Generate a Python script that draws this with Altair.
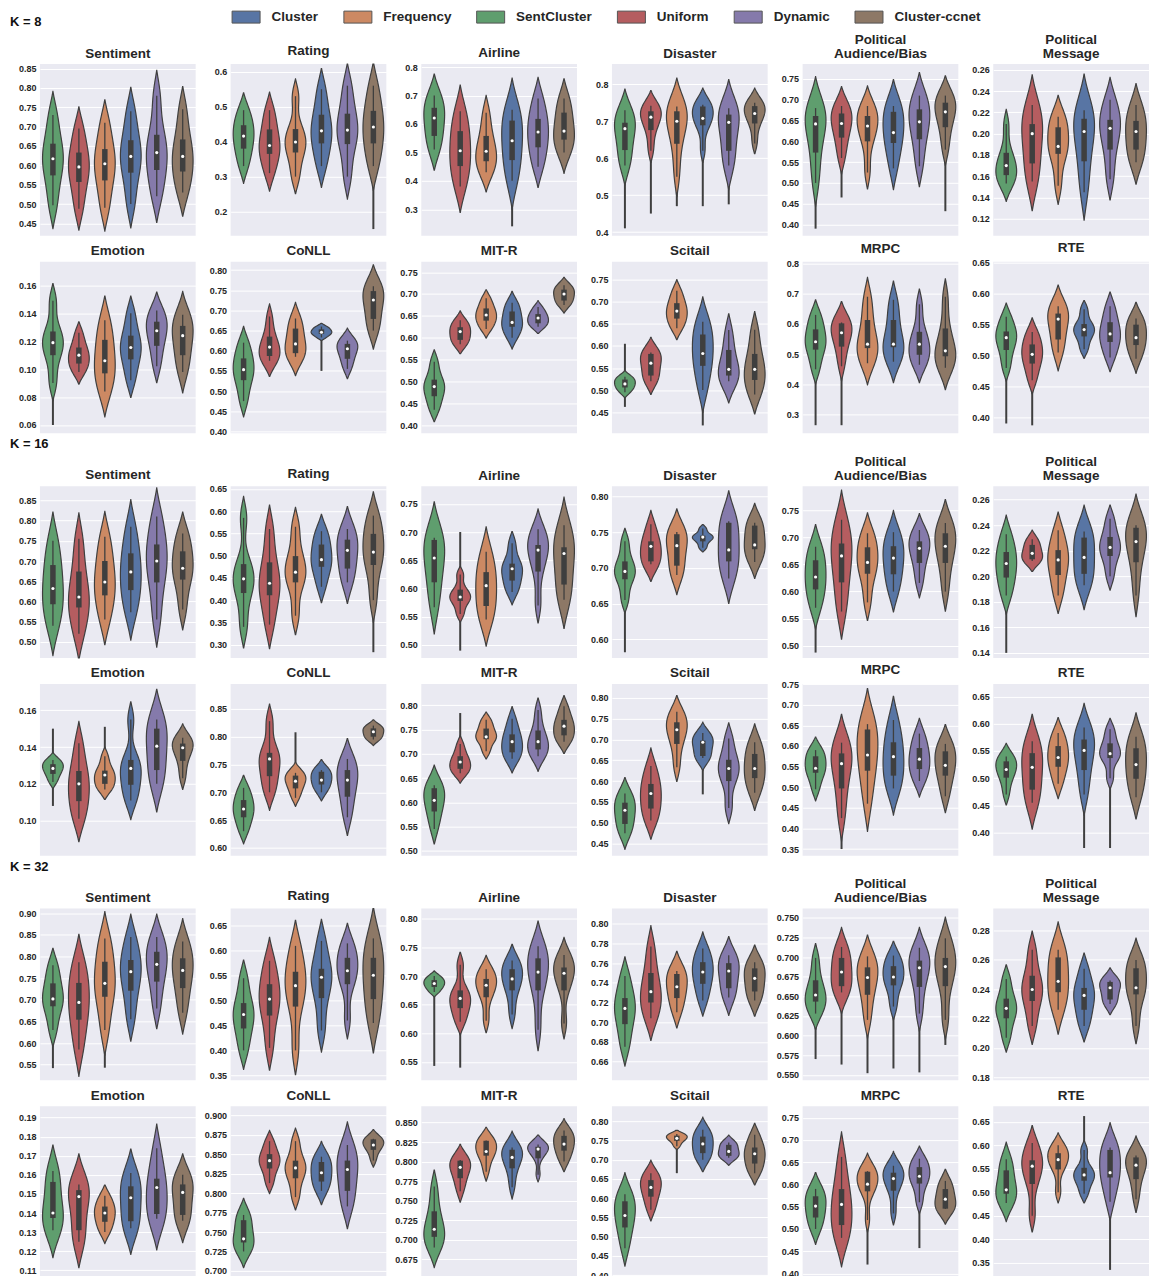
import math
import altair as alt
import pandas as pd

FONT = "Liberation Sans"
EDGE = "#3f3f3f"
TEXT = "#262626"

# x order of violins inside every panel
METHODS = ["SentCluster", "Uniform", "Frequency", "Cluster", "Dynamic", "Cluster-ccnet"]
# legend order and colours
LEGEND_ORDER = ["Cluster", "Frequency", "SentCluster", "Uniform", "Dynamic", "Cluster-ccnet"]
COLORS = ["#5875a4", "#cc8963", "#5f9e6e", "#b55d60", "#857aab", "#8d7866"]

DATASETS = ["Sentiment", "Rating", "Airline", "Disaster", "Political Audience/Bias", "Political Message",
            "Emotion", "CoNLL", "MIT-R", "Scitail", "MRPC", "RTE"]
TITLES = ["Sentiment", "Rating", "Airline", "Disaster", ["Political", "Audience/Bias"], ["Political", "Message"],
          "Emotion", "CoNLL", "MIT-R", "Scitail", "MRPC", "RTE"]
K_VALUES = [8, 16, 32]
K_LABELS = ["K = 8", "K = 16", "K = 32"]

# per violin: [lower whisker, q1, median, q3, upper whisker]  (order = METHODS)
K8_SENTIMENT = [[0.497, 0.574, 0.617, 0.656, 0.730], [0.488, 0.557, 0.596, 0.633, 0.695],
                [0.490, 0.561, 0.604, 0.642, 0.710], [0.500, 0.581, 0.623, 0.665, 0.740],
                [0.520, 0.588, 0.633, 0.679, 0.780], [0.530, 0.584, 0.623, 0.667, 0.745]]
K8_RATING = [[0.330, 0.380, 0.416, 0.447, 0.490], [0.310, 0.365, 0.389, 0.435, 0.490],
             [0.300, 0.369, 0.399, 0.436, 0.530], [0.330, 0.395, 0.431, 0.477, 0.550],
             [0.300, 0.393, 0.433, 0.480, 0.560], [0.330, 0.395, 0.442, 0.488, 0.560]]
K8_AIRLINE = [[0.510, 0.558, 0.621, 0.657, 0.700], [0.380, 0.452, 0.506, 0.575, 0.645],
              [0.430, 0.469, 0.504, 0.558, 0.640], [0.400, 0.473, 0.541, 0.612, 0.650],
              [0.450, 0.518, 0.572, 0.618, 0.690], [0.500, 0.545, 0.575, 0.640, 0.690]]
K8_DISASTER = [[0.580, 0.622, 0.680, 0.696, 0.730], [0.620, 0.676, 0.711, 0.727, 0.742],
               [0.550, 0.639, 0.700, 0.727, 0.740], [0.620, 0.689, 0.708, 0.740, 0.745],
               [0.580, 0.620, 0.697, 0.718, 0.735], [0.640, 0.694, 0.721, 0.741, 0.750]]
K8_POLAB = [[0.500, 0.573, 0.642, 0.661, 0.680], [0.560, 0.609, 0.643, 0.667, 0.685],
            [0.525, 0.600, 0.637, 0.661, 0.685], [0.535, 0.596, 0.621, 0.671, 0.685],
            [0.540, 0.605, 0.647, 0.677, 0.710], [0.580, 0.634, 0.671, 0.693, 0.710]]
K8_POLMSG = [[0.153, 0.161, 0.170, 0.182, 0.209], [0.155, 0.172, 0.200, 0.209, 0.227],
             [0.151, 0.181, 0.188, 0.206, 0.216], [0.145, 0.174, 0.202, 0.214, 0.222],
             [0.157, 0.185, 0.205, 0.213, 0.232], [0.173, 0.185, 0.202, 0.212, 0.227]]
K8_EMOTION = [[0.090, 0.110, 0.119, 0.127, 0.149], [0.098, 0.104, 0.110, 0.1155, 0.126],
              [0.084, 0.097, 0.106, 0.121, 0.135], [0.092, 0.107, 0.1155, 0.124, 0.140],
              [0.102, 0.1167, 0.1275, 0.134, 0.142], [0.098, 0.110, 0.124, 0.131, 0.139]]
K8_CONLL = [[0.475, 0.527, 0.553, 0.581, 0.620], [0.575, 0.587, 0.609, 0.635, 0.685],
            [0.585, 0.594, 0.617, 0.655, 0.680], [0.633, 0.642, 0.646, 0.653, 0.660],
            [0.555, 0.580, 0.605, 0.617, 0.625], [0.650, 0.679, 0.726, 0.748, 0.760]]
K8_MITR = [[0.435, 0.466, 0.488, 0.504, 0.545], [0.585, 0.595, 0.614, 0.624, 0.640],
           [0.620, 0.639, 0.652, 0.667, 0.690], [0.600, 0.625, 0.635, 0.660, 0.680],
           [0.625, 0.633, 0.645, 0.654, 0.670], [0.675, 0.685, 0.700, 0.710, 0.720]]
K8_SCITAIL = [[0.495, 0.506, 0.514, 0.524, 0.530], [0.520, 0.533, 0.561, 0.582, 0.585],
              [0.640, 0.662, 0.679, 0.697, 0.725], [0.500, 0.555, 0.583, 0.626, 0.655],
              [0.520, 0.533, 0.547, 0.591, 0.636], [0.490, 0.523, 0.547, 0.582, 0.637]]
K8_MRPC = [[0.450, 0.515, 0.541, 0.582, 0.630], [0.460, 0.525, 0.571, 0.602, 0.605],
           [0.470, 0.520, 0.533, 0.613, 0.690], [0.475, 0.523, 0.533, 0.613, 0.680],
           [0.465, 0.498, 0.533, 0.574, 0.665], [0.455, 0.493, 0.511, 0.585, 0.690]]
K8_RTE = [[0.480, 0.509, 0.529, 0.539, 0.563], [0.460, 0.487, 0.502, 0.518, 0.538],
          [0.505, 0.526, 0.559, 0.568, 0.580], [0.510, 0.531, 0.542, 0.551, 0.575],
          [0.497, 0.522, 0.535, 0.554, 0.580], [0.495, 0.517, 0.529, 0.550, 0.560]]

K16_SENTIMENT = [[0.540, 0.593, 0.632, 0.690, 0.750], [0.520, 0.585, 0.611, 0.674, 0.755],
                 [0.555, 0.615, 0.648, 0.700, 0.760], [0.573, 0.628, 0.673, 0.719, 0.785],
                 [0.555, 0.647, 0.700, 0.741, 0.810], [0.580, 0.654, 0.682, 0.724, 0.768]]
K16_RATING = [[0.340, 0.416, 0.448, 0.481, 0.585], [0.345, 0.411, 0.438, 0.485, 0.560],
              [0.365, 0.440, 0.463, 0.499, 0.565], [0.430, 0.475, 0.491, 0.525, 0.555],
              [0.440, 0.471, 0.512, 0.536, 0.560], [0.400, 0.479, 0.508, 0.549, 0.590]]
K16_AIRLINE = [[0.567, 0.611, 0.654, 0.686, 0.690], [0.555, 0.578, 0.585, 0.598, 0.625],
               [0.545, 0.569, 0.605, 0.629, 0.665], [0.594, 0.614, 0.635, 0.644, 0.680],
               [0.570, 0.630, 0.668, 0.677, 0.705], [0.580, 0.607, 0.662, 0.673, 0.712]]
K16_DISASTER = [[0.655, 0.684, 0.695, 0.709, 0.737], [0.705, 0.709, 0.730, 0.737, 0.761],
                [0.690, 0.703, 0.731, 0.747, 0.750], [0.728, 0.737, 0.743, 0.745, 0.755],
                [0.685, 0.709, 0.725, 0.763, 0.765], [0.708, 0.726, 0.732, 0.759, 0.763]]
K16_POLAB = [[0.570, 0.604, 0.627, 0.658, 0.683], [0.563, 0.617, 0.666, 0.689, 0.733],
             [0.580, 0.633, 0.654, 0.682, 0.708], [0.600, 0.632, 0.662, 0.684, 0.710],
             [0.616, 0.653, 0.680, 0.693, 0.714], [0.600, 0.653, 0.684, 0.708, 0.727]]
K16_POLMSG = [[0.185, 0.199, 0.210, 0.219, 0.233], [0.212, 0.2133, 0.218, 0.2246, 0.229],
              [0.185, 0.201, 0.2128, 0.2205, 0.236], [0.193, 0.2019, 0.2148, 0.2303, 0.235],
              [0.200, 0.2159, 0.2226, 0.2308, 0.245], [0.185, 0.211, 0.2272, 0.238, 0.240]]
K16_EMOTION = [[0.121, 0.1254, 0.1284, 0.1307, 0.133], [0.101, 0.1106, 0.120, 0.127, 0.142],
               [0.117, 0.120, 0.1248, 0.1272, 0.135], [0.111, 0.1195, 0.1284, 0.133, 0.155],
               [0.120, 0.1275, 0.1405, 0.150, 0.155], [0.123, 0.1325, 0.1396, 0.1419, 0.145]]
K16_CONLL = [[0.630, 0.655, 0.670, 0.686, 0.708], [0.700, 0.729, 0.760, 0.771, 0.828],
             [0.690, 0.707, 0.720, 0.730, 0.735], [0.700, 0.714, 0.722, 0.737, 0.740],
             [0.655, 0.692, 0.722, 0.740, 0.760], [0.795, 0.800, 0.809, 0.815, 0.820]]
K16_MITR = [[0.545, 0.581, 0.604, 0.629, 0.635], [0.660, 0.669, 0.683, 0.695, 0.720],
            [0.705, 0.730, 0.735, 0.752, 0.770], [0.690, 0.703, 0.725, 0.740, 0.772],
            [0.695, 0.709, 0.725, 0.748, 0.790], [0.725, 0.738, 0.757, 0.770, 0.798]]
K16_SCITAIL = [[0.475, 0.497, 0.530, 0.548, 0.570], [0.505, 0.534, 0.570, 0.593, 0.636],
               [0.633, 0.689, 0.723, 0.741, 0.766], [0.655, 0.660, 0.693, 0.697, 0.715],
               [0.535, 0.600, 0.630, 0.651, 0.702], [0.572, 0.607, 0.630, 0.665, 0.693]]
K16_MRPC = [[0.495, 0.535, 0.546, 0.575, 0.590], [0.425, 0.497, 0.557, 0.582, 0.608],
            [0.460, 0.540, 0.578, 0.640, 0.653], [0.497, 0.528, 0.574, 0.609, 0.663],
            [0.515, 0.544, 0.568, 0.595, 0.630], [0.478, 0.528, 0.553, 0.587, 0.605]]
K16_RTE = [[0.470, 0.501, 0.516, 0.531, 0.540], [0.455, 0.479, 0.520, 0.546, 0.568],
           [0.490, 0.521, 0.538, 0.559, 0.583], [0.470, 0.515, 0.551, 0.571, 0.593],
           [0.500, 0.537, 0.545, 0.564, 0.590], [0.465, 0.499, 0.525, 0.555, 0.576]]

K32_SENTIMENT = [[0.630, 0.685, 0.702, 0.738, 0.780], [0.585, 0.654, 0.694, 0.739, 0.787],
                 [0.630, 0.707, 0.738, 0.788, 0.842], [0.655, 0.721, 0.765, 0.792, 0.845],
                 [0.680, 0.742, 0.782, 0.811, 0.845], [0.670, 0.727, 0.768, 0.796, 0.835]]
K32_RATING = [[0.400, 0.444, 0.472, 0.495, 0.545], [0.405, 0.470, 0.503, 0.533, 0.580],
              [0.400, 0.488, 0.530, 0.558, 0.610], [0.440, 0.505, 0.547, 0.564, 0.620],
              [0.460, 0.533, 0.560, 0.586, 0.615], [0.455, 0.503, 0.551, 0.586, 0.625]]
K32_AIRLINE = [[0.672, 0.681, 0.687, 0.693, 0.700], [0.620, 0.644, 0.661, 0.675, 0.720],
               [0.622, 0.663, 0.684, 0.695, 0.712], [0.633, 0.675, 0.695, 0.712, 0.727],
               [0.606, 0.675, 0.707, 0.731, 0.752], [0.617, 0.675, 0.705, 0.715, 0.737]]
K32_DISASTER = [[0.675, 0.698, 0.714, 0.7245, 0.747], [0.704, 0.720, 0.731, 0.750, 0.777],
                [0.710, 0.7245, 0.736, 0.749, 0.752], [0.722, 0.739, 0.751, 0.761, 0.775],
                [0.725, 0.7345, 0.752, 0.760, 0.768], [0.722, 0.7312, 0.7446, 0.7547, 0.761]]
K32_POLAB = [[0.628, 0.6433, 0.6517, 0.6705, 0.699], [0.655, 0.663, 0.681, 0.699, 0.713],
             [0.620, 0.652, 0.674, 0.687, 0.701], [0.637, 0.664, 0.6747, 0.6885, 0.702],
             [0.628, 0.662, 0.6864, 0.6956, 0.712], [0.620, 0.663, 0.688, 0.699, 0.724]]
K32_POLMSG = [[0.207, 0.2202, 0.227, 0.2336, 0.247], [0.215, 0.232, 0.2398, 0.2492, 0.267],
              [0.226, 0.238, 0.2454, 0.2617, 0.267], [0.215, 0.226, 0.2358, 0.2409, 0.254],
              [0.230, 0.233, 0.241, 0.245, 0.246], [0.215, 0.2365, 0.241, 0.2543, 0.260]]
K32_EMOTION = [[0.131, 0.1374, 0.140, 0.1563, 0.162], [0.125, 0.131, 0.1486, 0.152, 0.155],
               [0.130, 0.1354, 0.140, 0.1434, 0.149], [0.132, 0.1357, 0.148, 0.154, 0.161],
               [0.137, 0.1395, 0.1534, 0.158, 0.174], [0.136, 0.139, 0.1508, 0.155, 0.160]]
K32_CONLL = [[0.725, 0.7366, 0.7413, 0.7653, 0.772], [0.813, 0.8318, 0.8419, 0.8503, 0.867],
             [0.795, 0.8192, 0.8326, 0.8419, 0.867], [0.803, 0.815, 0.8263, 0.8402, 0.847],
             [0.783, 0.803, 0.8305, 0.842, 0.862], [0.842, 0.8558, 0.862, 0.8693, 0.870]]
K32_MITR = [[0.690, 0.7036, 0.7133, 0.7363, 0.768], [0.762, 0.7787, 0.7927, 0.8012, 0.802],
            [0.787, 0.8076, 0.813, 0.8267, 0.827], [0.767, 0.7914, 0.8054, 0.8152, 0.818],
            [0.783, 0.8042, 0.816, 0.819, 0.822], [0.800, 0.814, 0.8224, 0.833, 0.840]]
K32_SCITAIL = [[0.470, 0.524, 0.555, 0.592, 0.610], [0.570, 0.604, 0.628, 0.647, 0.665],
               [0.735, 0.749, 0.7556, 0.7625, 0.767], [0.700, 0.717, 0.741, 0.760, 0.778],
               [0.705, 0.710, 0.7215, 0.7386, 0.745], [0.665, 0.690, 0.7155, 0.7317, 0.765]]
K32_MRPC = [[0.500, 0.5257, 0.5515, 0.5735, 0.590], [0.480, 0.5088, 0.5551, 0.5897, 0.662],
            [0.520, 0.5846, 0.6007, 0.6287, 0.630], [0.535, 0.586, 0.6132, 0.6265, 0.642],
            [0.560, 0.602, 0.6184, 0.639, 0.658], [0.545, 0.5456, 0.5669, 0.5897, 0.608]]
K32_RTE = [[0.477, 0.4969, 0.5052, 0.5466, 0.570], [0.450, 0.5176, 0.5555, 0.568, 0.605],
           [0.500, 0.5486, 0.5693, 0.5831, 0.600], [0.497, 0.5245, 0.5369, 0.552, 0.590],
           [0.480, 0.5314, 0.5417, 0.590, 0.595], [0.485, 0.5279, 0.5576, 0.5741, 0.578]]

# thin violin tails reaching beyond the body: (K, dataset, method, tip value)
TAILS = [
    (8, "Rating", "Cluster-ccnet", 0.150), (8, "Airline", "Cluster", 0.240),
    (8, "Disaster", "SentCluster", 0.410), (8, "Disaster", "Uniform", 0.450),
    (8, "Disaster", "Frequency", 0.470), (8, "Disaster", "Cluster", 0.470),
    (8, "Disaster", "Dynamic", 0.475), (8, "Political Audience/Bias", "SentCluster", 0.390),
    (8, "Political Audience/Bias", "Uniform", 0.465), (8, "Political Audience/Bias", "Cluster-ccnet", 0.432),
    (8, "CoNLL", "Cluster", 0.550), (8, "MRPC", "SentCluster", 0.265), (8, "MRPC", "Uniform", 0.265),
    (8, "RTE", "SentCluster", 0.390), (8, "RTE", "Uniform", 0.387), (8, "Emotion", "SentCluster", 0.060),
    (8, "Scitail", "Cluster", 0.420), (8, "Scitail", "SentCluster", 0.462), (8, "Scitail", "SentCluster", 0.605),
    (16, "Rating", "Cluster-ccnet", 0.283), (16, "Disaster", "SentCluster", 0.582),
    (16, "Political Audience/Bias", "SentCluster", 0.487), (16, "Political Message", "SentCluster", 0.140),
    (16, "RTE", "Cluster", 0.372), (16, "RTE", "Dynamic", 0.372), (16, "Emotion", "Frequency", 0.151),
    (16, "Emotion", "SentCluster", 0.108), (16, "Emotion", "SentCluster", 0.150),
    (16, "MIT-R", "Uniform", 0.784), (16, "CoNLL", "Frequency", 0.808), (16, "Scitail", "Cluster", 0.568),
    (16, "MRPC", "Uniform", 0.350), (16, "Airline", "Uniform", 0.490), (16, "Airline", "Uniform", 0.700),
    (32, "Airline", "SentCluster", 0.543), (32, "Airline", "Uniform", 0.540),
    (32, "Scitail", "Frequency", 0.665), (32, "RTE", "Dynamic", 0.335), (32, "RTE", "Cluster", 0.662),
    (32, "Sentiment", "SentCluster", 0.542), (32, "Sentiment", "Uniform", 0.532),
    (32, "Sentiment", "Frequency", 0.543), (32, "MRPC", "Frequency", 0.420), (32, "MRPC", "Dynamic", 0.457),
    (32, "Political Audience/Bias", "SentCluster", 0.570), (32, "Political Audience/Bias", "Uniform", 0.563),
    (32, "Political Audience/Bias", "Frequency", 0.552), (32, "Political Audience/Bias", "Cluster", 0.558),
    (32, "Political Audience/Bias", "Dynamic", 0.553), (32, "Political Audience/Bias", "Cluster-ccnet", 0.588),
]

# y axis ranges and tick steps (order = DATASETS)
K8_YLO = [0.418, 0.131, 0.207, 0.390, 0.373, 0.104, 0.054, 0.395, 0.381, 0.402, 0.238, 0.374]
K8_YHI = [0.862, 0.622, 0.811, 0.855, 0.786, 0.2655, 0.177, 0.821, 0.774, 0.791, 0.806, 0.652]
K8_STEP = [0.05, 0.1, 0.1, 0.1, 0.05, 0.02, 0.02, 0.05, 0.05, 0.05, 0.1, 0.05]
K16_YLO = [0.460, 0.270, 0.477, 0.574, 0.477, 0.136, 0.081, 0.586, 0.490, 0.421, 0.334, 0.358]
K16_YHI = [0.885, 0.656, 0.781, 0.814, 0.795, 0.2705, 0.1743, 0.895, 0.844, 0.833, 0.7505, 0.673]
K16_STEP = [0.05, 0.05, 0.05, 0.05, 0.05, 0.02, 0.02, 0.05, 0.05, 0.05, 0.05, 0.05]
K32_YLO = [0.514, 0.340, 0.518, 0.641, 0.543, 0.178, 0.106, 0.691, 0.651, 0.393, 0.390, 0.318]
K32_YHI = [0.911, 0.685, 0.818, 0.8155, 0.762, 0.295, 0.196, 0.912, 0.871, 0.839, 0.776, 0.683]
K32_STEP = [0.05, 0.05, 0.05, 0.02, 0.025, 0.02, 0.01, 0.025, 0.025, 0.05, 0.05, 0.05]

PANELS = {
    8: [K8_SENTIMENT, K8_RATING, K8_AIRLINE, K8_DISASTER, K8_POLAB, K8_POLMSG,
        K8_EMOTION, K8_CONLL, K8_MITR, K8_SCITAIL, K8_MRPC, K8_RTE],
    16: [K16_SENTIMENT, K16_RATING, K16_AIRLINE, K16_DISASTER, K16_POLAB, K16_POLMSG,
         K16_EMOTION, K16_CONLL, K16_MITR, K16_SCITAIL, K16_MRPC, K16_RTE],
    32: [K32_SENTIMENT, K32_RATING, K32_AIRLINE, K32_DISASTER, K32_POLAB, K32_POLMSG,
         K32_EMOTION, K32_CONLL, K32_MITR, K32_SCITAIL, K32_MRPC, K32_RTE],
}
YRANGES = {8: (K8_YLO, K8_YHI, K8_STEP), 16: (K16_YLO, K16_YHI, K16_STEP), 32: (K32_YLO, K32_YHI, K32_STEP)}

rows = []
for k in K_VALUES:
    for ds, arr in zip(DATASETS, PANELS[k]):
        for pos, (m, vals) in enumerate(zip(METHODS, arr)):
            for v in vals:
                rows.append({"K": k, "ds": ds, "method": m, "pos": pos, "value": v})
samples = pd.DataFrame(rows)

tail_rows = []
for k, ds, m, tip in TAILS:
    mi = METHODS.index(m)
    tail_rows.append({"K": k, "ds": ds, "method": m, "pos": mi, "tip": tip,
                      "anchor": PANELS[k][DATASETS.index(ds)][mi][2]})
tails = pd.DataFrame(tail_rows)

W, H = 156, 172
THR = 0.18

LEGEND = alt.Legend(orient="none", legendX=198.5, legendY=-28, direction="horizontal", title=None,
                    symbolType="M-1.87,-0.8H1.87V0.8H-1.87Z", symbolSize=225, symbolStrokeColor="#555555",
                    symbolStrokeWidth=1, symbolOpacity=1, labelFont=FONT, labelFontSize=13.5,
                    labelFontWeight="bold", labelColor=TEXT, columnPadding=22, labelOffset=17.5)


def panel(k, idx):
    ds = DATASETS[idx]
    lo, hi, step = YRANGES[k][0][idx], YRANGES[k][1][idx], YRANGES[k][2][idx]
    ticks = [round(i * step, 4) for i in range(math.ceil(lo / step - 1e-9), math.floor(hi / step + 1e-9) + 1)]
    dec = 1 if step >= 0.1 else (3 if abs(step - 0.025) < 1e-9 else 2)
    yscale = alt.Scale(domain=[lo, hi], nice=False, zero=False)
    xscale = alt.Scale(domain=[-0.5, 5.5], nice=False, zero=False)
    yaxis = alt.Axis(values=ticks, format=f".{dec}f")
    xenc = alt.X("pos:Q", scale=xscale, axis=None)
    sel = (alt.datum.K == k) & (alt.datum.ds == ds)

    base = alt.Chart(samples).transform_filter(sel)

    tail = alt.Chart(tails).transform_filter(sel).mark_rule(color=EDGE, strokeWidth=2).encode(
        x=xenc, y=alt.Y("tip:Q", scale=yscale, axis=yaxis, title=None), y2="anchor:Q")

    violin = base.transform_density(
        "value", as_=["value", "density"], groupby=["method", "pos"], extent=[lo, hi], steps=220
    ).transform_joinaggregate(
        dmax="max(density)", groupby=["method"]
    ).transform_calculate(
        rel="datum.density / datum.dmax"
    ).transform_filter(
        f"datum.rel > {THR}"
    ).transform_calculate(
        w=f"0.4 * (datum.rel - {THR}) / (1 - {THR})"
    ).transform_calculate(
        xl="datum.pos - datum.w", xr="datum.pos + datum.w"
    ).mark_area(orient="horizontal", stroke=EDGE, strokeWidth=1.2, opacity=1).encode(
        y=alt.Y("value:Q", scale=yscale, axis=yaxis, title=None),
        x=alt.X("xl:Q", scale=xscale, axis=None),
        x2="xr:Q",
        color=alt.Color("method:N", scale=alt.Scale(domain=LEGEND_ORDER, range=COLORS), legend=LEGEND),
    )

    stats = base.transform_aggregate(
        wlo="min(value)", q1="q1(value)", med="median(value)", q3="q3(value)", whi="max(value)",
        groupby=["method", "pos"],
    )
    whisk = stats.mark_rule(color=EDGE, strokeWidth=1.3).encode(
        x=xenc, y=alt.Y("wlo:Q", scale=yscale, axis=yaxis, title=None), y2="whi:Q")
    box = stats.mark_rule(color=EDGE, strokeWidth=5.5).encode(
        x=xenc, y=alt.Y("q1:Q", scale=yscale, axis=yaxis, title=None), y2="q3:Q")
    med = stats.mark_point(filled=True, color="white", size=10, opacity=1).encode(
        x=xenc, y=alt.Y("med:Q", scale=yscale, axis=yaxis, title=None))

    return alt.layer(tail, violin, whisk, box, med).properties(
        width=W, height=H, title=alt.TitleParams(TITLES[idx], lineHeight=14))


def spacer(label):
    return alt.Chart(pd.DataFrame({"label": [label]})).mark_text(
        align="left", baseline="middle", font=FONT, fontSize=13, fontWeight="bold", color="#111111"
    ).encode(text="label:N", x=alt.value(-30), y=alt.value(-15)).properties(
        width=W, height=1, view=alt.ViewBackground(fill="transparent", strokeWidth=0))


cells = []
for gi, k in enumerate(K_VALUES):
    cells.append(spacer(K_LABELS[gi]))
    cells.extend(spacer("") for _ in range(5))
    for idx in range(12):
        cells.append(panel(k, idx))

chart = alt.concat(*cells, columns=6, spacing=alt.RowColnumber(row=26, column=35), bounds="flush").properties(
    padding={"left": 2, "top": 0, "right": 0, "bottom": 0}
).configure(font=FONT).configure_view(
    fill="#EAEAF2", strokeWidth=0
).configure_axis(
    labelFont=FONT, labelFontSize=9, labelFontWeight="bold", labelColor=TEXT, ticks=False,
    domain=False, gridColor="white", gridWidth=1, labelPadding=4
).configure_title(
    font=FONT, fontSize=13.5, fontWeight="bold", color=TEXT, offset=4, anchor="middle"
)

chart.save("out.html", embed_options={"renderer": "svg", "actions": False})
